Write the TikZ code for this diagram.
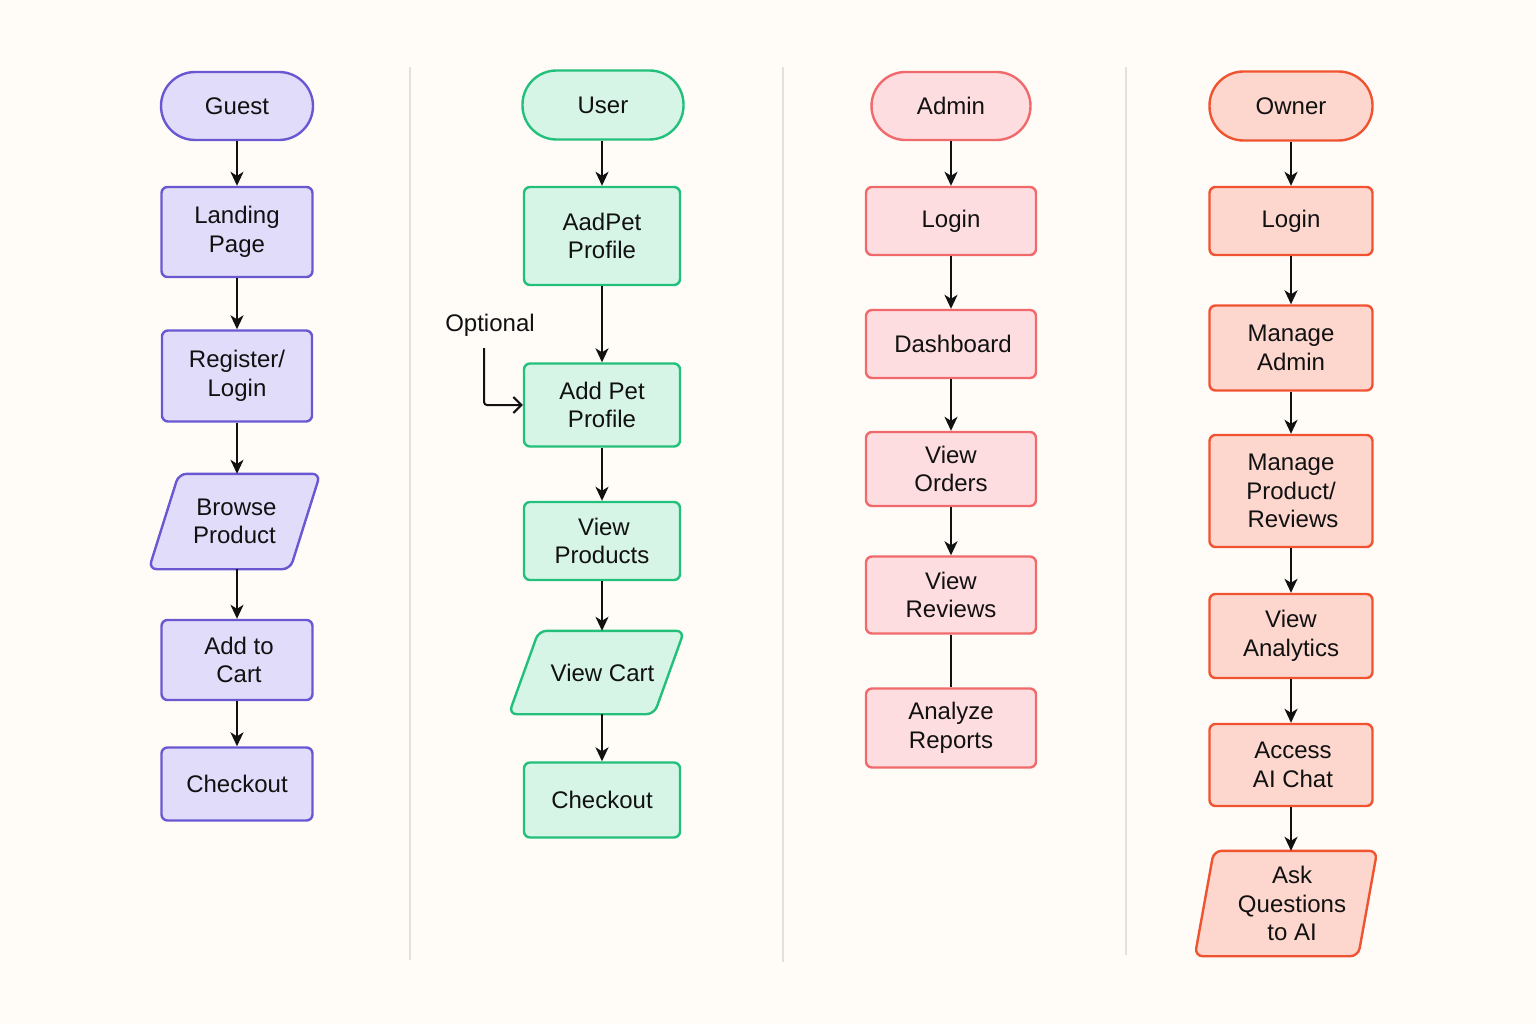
\documentclass[tikz,border=0pt]{standalone}
\usepackage{fontspec}
\setmainfont{Liberation Sans}
\usetikzlibrary{arrows.meta,calc}
\pgfdeclarelayer{bgl}\pgfdeclarelayer{shp}\pgfsetlayers{bgl,shp,main}
\definecolor{bgc}{HTML}{FFFCF8}
\definecolor{txt}{HTML}{111111}
\definecolor{sepc}{HTML}{E4E0DC}
\definecolor{purS}{HTML}{6A58D2}
\definecolor{purF}{HTML}{E0DCFA}
\definecolor{grnS}{HTML}{22C07A}
\definecolor{grnF}{HTML}{D6F5E7}
\definecolor{admS}{HTML}{F06A6C}
\definecolor{admF}{HTML}{FDDDE0}
\definecolor{ownS}{HTML}{F0532F}
\definecolor{ownF}{HTML}{FDD6CD}
\tikzset{
 base/.style={rectangle, line width=2.4pt, align=center, inner sep=0pt, font=\fontsize{24}{28.5}\selectfont, text=txt},
 pur/.style={draw=purS, fill=purF},
 grn/.style={draw=grnS, fill=grnF},
 adm/.style={draw=admS, fill=admF},
 own/.style={draw=ownS, fill=ownF},
 box/.style={base, rounded corners=6pt},
 term/.style={base, rounded corners=34pt},
 plg/.style={base},
 arr/.style={line width=2pt, draw=txt, -{Stealth[length=14pt,width=13pt,inset=4pt]}},
 barb/.style={line width=2pt, draw=txt, -{Straight Barb[length=8pt,width=16pt,line width=2pt]}},
 conn/.style={line width=2pt, draw=txt},
 sep/.style={line width=1.5pt, draw=sepc},
}
\newcommand\plgram[3]{%
 \begin{pgfonlayer}{shp}\draw[#3, line width=2.4pt, rounded corners=8pt]
 ($(#1.north west)+(#2,0)$) -- ($(#1.north east)+(#2,0)$) -- ($(#1.south east)-(#2,0)$) -- ($(#1.south west)-(#2,0)$) -- cycle;\end{pgfonlayer}}
\begin{document}
\begin{tikzpicture}[x=1pt,y=-1pt]
\begin{pgfonlayer}{bgl}
\fill[bgc] (0,0) rectangle (1536,1024);
\end{pgfonlayer}
\useasboundingbox (0,0) rectangle (1536,1024);
% separators
\coordinate (s1a) at (410,67); \coordinate (s1b) at (410,960);
\coordinate (s2a) at (783,67); \coordinate (s2b) at (783,962);
\coordinate (s3a) at (1126,67); \coordinate (s3b) at (1126,955);
\draw[sep] (s1a) -- (s1b);
\draw[sep] (s2a) -- (s2b);
\draw[sep] (s3a) -- (s3b);
% Column 1 Guest
\node[term,pur,minimum width=152pt,minimum height=68pt] (guest) at (237,106) {Guest};
\node[box,pur,minimum width=151pt,minimum height=90pt] (landing) at (237,232) {Landing\\Page};
\node[box,pur,minimum width=150pt,minimum height=91pt] (register) at (237,376) {Register/\\Login};
\node[plg,minimum width=139pt,minimum height=93pt] (browse) at (234.5,521.5) {\,Browse\\Product};
\plgram{browse}{15}{pur}
\node[box,pur,minimum width=151pt,minimum height=80pt] (cart) at (237,660) {\,Add to\\\,Cart};
\node[box,pur,minimum width=151pt,minimum height=73pt] (checkout1) at (237,784) {Checkout};
\draw[arr] (guest) -- (landing);
\draw[arr] (landing) -- (register);
\draw[arr] (register.south) -- (register.south |- browse.north);
\draw[arr] (register.south |- browse.south) -- (register.south |- cart.north);
\draw[arr] (cart) -- (checkout1);
% Column 2 User
\node[term,grn,minimum width=161pt,minimum height=69pt] (user) at (603,105) {User};
\node[box,grn,minimum width=156pt,minimum height=98pt] (aadpet) at (602,236) {AadPet\\Profile};
\node[box,grn,minimum width=156pt,minimum height=83pt] (addpet) at (602,405) {Add Pet\\Profile};
\node[box,grn,minimum width=156pt,minimum height=78pt] (viewprod) at (602,541) {\,View\\Products};
\node[plg,minimum width=143pt,minimum height=81pt] (viewcart) at (596.5,672.5) {\hspace{12pt}View Cart};
\plgram{viewcart}{15}{grn}
\node[box,grn,minimum width=156pt,minimum height=75pt] (checkout2) at (602,800) {Checkout};
\node[base,anchor=center] (optional) at (490,325) {Optional};
\coordinate (optc) at (484,348);
\draw[barb,rounded corners=3pt] (optc) |- (addpet.west);
\draw[arr] (user.south -| aadpet.north) -- (aadpet.north);
\draw[arr] (aadpet) -- (addpet);
\draw[arr] (addpet) -- (viewprod);
\draw[arr] (viewprod.south) -- (viewprod.south |- viewcart.north);
\draw[arr] (viewprod.south |- viewcart.south) -- (checkout2.north);
% Column 3 Admin
\node[term,adm,minimum width=159pt,minimum height=68pt] (admin) at (951,106) {Admin};
\node[box,adm,minimum width=170pt,minimum height=68pt] (login3) at (951,221) {Login};
\node[box,adm,minimum width=170pt,minimum height=68pt] (dash) at (951,344) {\,Dashboard};
\node[box,adm,minimum width=170pt,minimum height=74pt] (orders) at (951,469) {View\\Orders};
\node[box,adm,minimum width=170pt,minimum height=77pt] (reviews) at (951,595) {View\\Reviews};
\node[box,adm,minimum width=170pt,minimum height=79pt] (analyze) at (951,728) {Analyze\\Reports};
\draw[arr] (admin) -- (login3);
\draw[arr] (login3) -- (dash);
\draw[arr] (dash) -- (orders);
\draw[arr] (orders) -- (reviews);
\draw[conn] (reviews) -- (analyze);
% Column 4 Owner
\node[term,own,minimum width=163pt,minimum height=69pt] (owner) at (1291,106) {Owner};
\node[box,own,minimum width=163pt,minimum height=68pt] (login4) at (1291,221) {Login};
\node[box,own,minimum width=163pt,minimum height=85pt] (madmin) at (1291,348) {Manage\\Admin};
\node[box,own,minimum width=163pt,minimum height=112pt] (mprod) at (1291,491) {Manage\\Product/\\\,Reviews};
\node[box,own,minimum width=163pt,minimum height=84pt] (analytics) at (1291,636) {View\\Analytics};
\node[box,own,minimum width=163pt,minimum height=82pt] (access) at (1291,765) {\,Access\\\,AI Chat};
\node[plg,minimum width=161pt,minimum height=103pt] (ask) at (1286,903.5) {\hspace{12pt}Ask\\\hspace{12pt}Questions\\\hspace{12pt}to AI};
\plgram{ask}{9.5}{own}
\draw[arr] (owner) -- (login4);
\draw[arr] (login4) -- (madmin);
\draw[arr] (madmin) -- (mprod);
\draw[arr] (mprod) -- (analytics);
\draw[arr] (analytics) -- (access);
\draw[arr] (access.south) -- (access.south |- ask.north);
\end{tikzpicture}
\end{document}
